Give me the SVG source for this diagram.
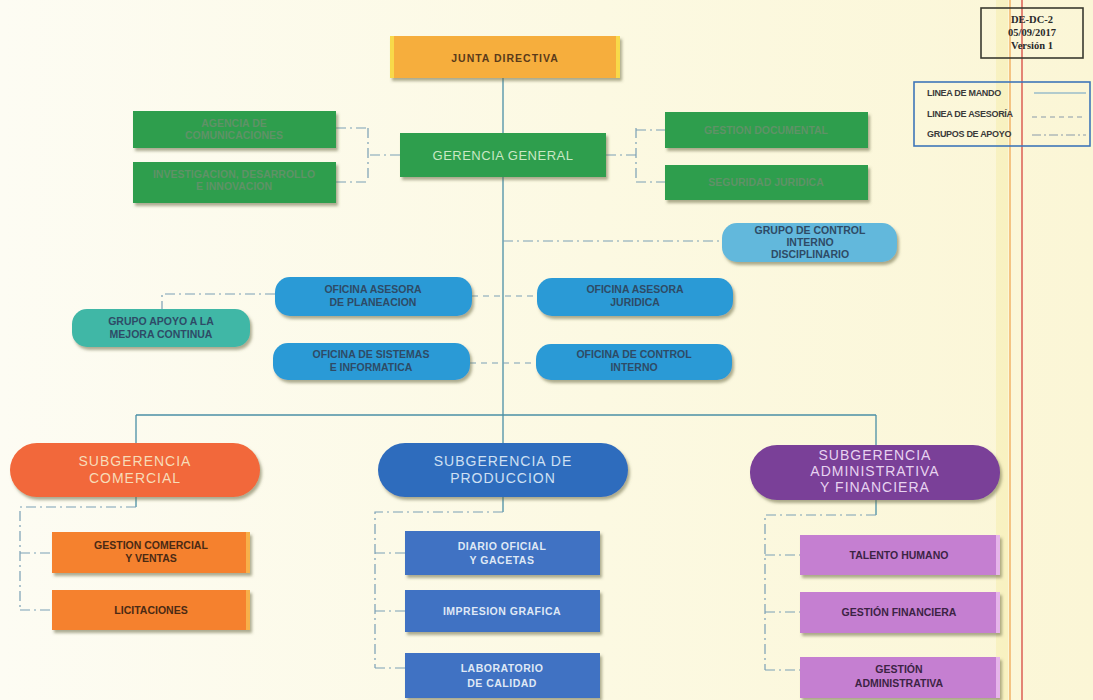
<svg xmlns="http://www.w3.org/2000/svg" width="1093" height="700" viewBox="0 0 1093 700">
<defs>
<filter id="sh" x="-10%" y="-20%" width="125%" height="150%">
<feDropShadow dx="2" dy="3" stdDeviation="1.6" flood-color="#6b6a45" flood-opacity="0.55"/>
</filter>
<linearGradient id="bg" x1="0" y1="0" x2="1" y2="0">
<stop offset="0" stop-color="#fdfcf3"/>
<stop offset="0.55" stop-color="#fcf9e2"/>
<stop offset="1" stop-color="#fbf6d6"/>
</linearGradient>
<style>
.t{font-family:"Liberation Sans",Arial,sans-serif;text-anchor:middle;font-weight:bold;font-size:10.5px}
.s{font-family:"Liberation Sans",Arial,sans-serif;text-anchor:middle;font-size:14px;letter-spacing:1px}
.lg{font-family:"Liberation Sans",Arial,sans-serif;font-size:9px;font-weight:bold;fill:#3a3a3a;letter-spacing:-0.3px}
.cm{stroke:#4a8fa6;stroke-width:1.3;fill:none}
.ca{stroke:#7a9fb5;stroke-width:1.2;fill:none;stroke-dasharray:6 5}
.cg{stroke:#7a9fb5;stroke-width:1.2;fill:none;stroke-dasharray:10 4 2 4}
.grn{fill:#2e9e4e;filter:url(#sh)}
.blu{fill:#2c9ad6;filter:url(#sh)}
.gt{fill:#5f9267}
.bt{fill:#2e4b66}
</style>
</defs>
<rect width="1093" height="700" fill="url(#bg)"/>
<rect x="996" y="0" width="12" height="700" fill="#f7f0b8" opacity="0.7"/>
<line x1="1010" y1="0" x2="1010" y2="700" stroke="#f0a24a" stroke-width="1.2"/>
<line x1="1022" y1="0" x2="1022" y2="700" stroke="#d9534a" stroke-width="1.4"/>

<g id="connectors">
<line class="cm" x1="503" y1="78" x2="503" y2="415"/>
<line class="cm" x1="136" y1="415" x2="876" y2="415"/>
<line class="cm" x1="136" y1="415" x2="136" y2="443"/>
<line class="cm" x1="876" y1="415" x2="876" y2="445"/>
<line class="cm" x1="503" y1="415" x2="503" y2="443"/>
<path class="cg" d="M400 155 H368 M368 128 V182 M336 128 H368 M336 182 H368"/>
<path class="cg" d="M606 155 H636 M636 128 V182 M636 130 H665 M636 182 H665"/>
<line class="cg" x1="503" y1="241" x2="722" y2="241"/>
<line class="ca" x1="472" y1="296" x2="537" y2="296"/>
<line class="ca" x1="470" y1="363" x2="536" y2="363"/>
<path class="cg" d="M275 294 H162 V309"/>
<line class="cm" x1="136" y1="497" x2="136" y2="507"/>
<path class="cg" d="M136 507 H20 V610 M20 553 H52 M20 610 H52"/>
<line class="cm" x1="503" y1="497" x2="503" y2="512"/>
<path class="cg" d="M503 512 H375 V668 M375 553 H405 M375 611 H405 M375 668 H405"/>
<line class="cm" x1="876" y1="500" x2="876" y2="515"/>
<path class="cg" d="M876 515 H765 V670 M765 555 H800 M765 612 H800 M765 670 H800"/>
</g>

<g id="junta-directiva">
<rect x="390" y="36" width="230" height="42" fill="#f6ae3e" filter="url(#sh)"/>
<rect x="390" y="36" width="4" height="42" fill="#f8d94a"/>
<rect x="616" y="36" width="4" height="42" fill="#f8d94a"/>
<text class="t" x="505" y="62" font-size="13" fill="#5a3a1a" letter-spacing="1">JUNTA  DIRECTIVA</text>
</g>
<g id="gerencia-general">
<rect class="grn" x="400" y="133" width="206" height="44"/>
<text x="503" y="160" font-family="Liberation Sans,Arial,sans-serif" font-size="13" text-anchor="middle" fill="#c9e8c4" letter-spacing="0.5">GERENCIA GENERAL</text>
</g>
<g id="agencia-comunicaciones">
<rect class="grn" x="133" y="111" width="203" height="37"/>
<text class="t gt" x="234" y="127">AGENCIA DE</text>
<text class="t gt" x="234" y="139">COMUNICACIONES</text>
</g>
<g id="investigacion">
<rect class="grn" x="133" y="162" width="203" height="41"/>
<text class="t gt" x="234" y="178">INVESTIGACION, DESARROLLO</text>
<text class="t gt" x="234" y="190">E INNOVACION</text>
</g>
<g id="gestion-documental">
<rect class="grn" x="665" y="112" width="203" height="36"/>
<text class="t gt" x="766" y="134">GESTION DOCUMENTAL</text>
</g>
<g id="seguridad-juridica">
<rect class="grn" x="665" y="165" width="203" height="35"/>
<text class="t gt" x="766" y="186">SEGURIDAD JURIDICA</text>
</g>

<g id="grupo-control-interno-disciplinario">
<rect x="722" y="223" width="175" height="39" rx="15" fill="#62b8dc" filter="url(#sh)"/>
<text class="t bt" x="810" y="234">GRUPO DE CONTROL</text>
<text class="t bt" x="810" y="246">INTERNO</text>
<text class="t bt" x="810" y="258">DISCIPLINARIO</text>
</g>
<g id="oficina-planeacion">
<rect class="blu" x="275" y="277" width="197" height="39" rx="15"/>
<text class="t bt" x="373" y="293">OFICINA ASESORA</text>
<text class="t bt" x="373" y="306">DE PLANEACION</text>
</g>
<g id="oficina-juridica">
<rect class="blu" x="537" y="278" width="196" height="38" rx="15"/>
<text class="t bt" x="635" y="293">OFICINA ASESORA</text>
<text class="t bt" x="635" y="306">JURIDICA</text>
</g>
<g id="oficina-sistemas">
<rect class="blu" x="273" y="343" width="197" height="37" rx="15"/>
<text class="t bt" x="371" y="358">OFICINA DE SISTEMAS</text>
<text class="t bt" x="371" y="371">E INFORMATICA</text>
</g>
<g id="oficina-control-interno">
<rect class="blu" x="536" y="344" width="196" height="36" rx="15"/>
<text class="t bt" x="634" y="358">OFICINA DE CONTROL</text>
<text class="t bt" x="634" y="371">INTERNO</text>
</g>
<g id="grupo-mejora-continua">
<rect x="72" y="309" width="178" height="38" rx="15" fill="#40b7a6" filter="url(#sh)"/>
<text class="t bt" x="161" y="325">GRUPO APOYO A LA</text>
<text class="t bt" x="161" y="338">MEJORA CONTINUA</text>
</g>

<g id="subgerencia-comercial">
<rect x="10" y="443" width="250" height="54" rx="27" fill="#f2673a" filter="url(#sh)"/>
<text class="s" x="135" y="466" fill="#f7dcb8">SUBGERENCIA</text>
<text class="s" x="135" y="483" fill="#f7dcb8">COMERCIAL</text>
</g>
<g id="subgerencia-produccion">
<rect x="378" y="443" width="250" height="54" rx="27" fill="#2f6cbd" filter="url(#sh)"/>
<text class="s" x="503" y="466" fill="#cfe0f3">SUBGERENCIA DE</text>
<text class="s" x="503" y="483" fill="#cfe0f3">PRODUCCION</text>
</g>
<g id="subgerencia-administrativa">
<rect x="750" y="445" width="250" height="55" rx="27" fill="#7a3f98" filter="url(#sh)"/>
<text class="s" x="875" y="460" fill="#e7d3f0">SUBGERENCIA</text>
<text class="s" x="875" y="476" fill="#e7d3f0">ADMINISTRATIVA</text>
<text class="s" x="875" y="492" fill="#e7d3f0">Y FINANCIERA</text>
</g>

<g id="gestion-comercial">
<rect x="52" y="532" width="198" height="41" fill="#f5812f" filter="url(#sh)"/>
<rect x="246" y="532" width="4" height="41" fill="#f7b04a"/>
<text class="t" x="151" y="549" font-size="11" fill="#4a2a14">GESTION  COMERCIAL</text>
<text class="t" x="151" y="562" font-size="11" fill="#4a2a14">Y VENTAS</text>
</g>
<g id="licitaciones">
<rect x="52" y="590" width="198" height="40" fill="#f5812f" filter="url(#sh)"/>
<rect x="246" y="590" width="4" height="40" fill="#f7b04a"/>
<text class="t" x="151" y="614" font-size="11" fill="#4a2a14">LICITACIONES</text>
</g>

<g id="diario-oficial">
<rect x="405" y="531" width="195" height="44" fill="#3f72c3" filter="url(#sh)"/>
<text x="502" y="550" class="t" font-weight="normal" font-size="11" fill="#dfe8f5" letter-spacing="0.5">DIARIO OFICIAL</text>
<text x="502" y="564" class="t" font-weight="normal" font-size="11" fill="#dfe8f5" letter-spacing="0.5">Y GACETAS</text>
</g>
<g id="impresion-grafica">
<rect x="405" y="590" width="195" height="42" fill="#3f72c3" filter="url(#sh)"/>
<text x="502" y="615" class="t" font-weight="normal" font-size="11" fill="#dfe8f5" letter-spacing="0.5">IMPRESION  GRAFICA</text>
</g>
<g id="laboratorio-calidad">
<rect x="405" y="653" width="195" height="45" fill="#3f72c3" filter="url(#sh)"/>
<text x="502" y="672" class="t" font-weight="normal" font-size="11" fill="#dfe8f5" letter-spacing="0.5">LABORATORIO</text>
<text x="502" y="687" class="t" font-weight="normal" font-size="11" fill="#dfe8f5" letter-spacing="0.5">DE CALIDAD</text>
</g>

<g id="talento-humano">
<rect x="800" y="535" width="200" height="40" fill="#c57fd1" filter="url(#sh)"/>
<rect x="996" y="535" width="4" height="40" fill="#e6b4ea"/>
<text class="t" x="899" y="559" font-size="11" fill="#3c2444">TALENTO  HUMANO</text>
</g>
<g id="gestion-financiera">
<rect x="800" y="592" width="200" height="41" fill="#c57fd1" filter="url(#sh)"/>
<rect x="996" y="592" width="4" height="41" fill="#e6b4ea"/>
<text class="t" x="899" y="616" font-size="11" fill="#3c2444">GESTIÓN  FINANCIERA</text>
</g>
<g id="gestion-administrativa">
<rect x="800" y="657" width="200" height="41" fill="#c57fd1" filter="url(#sh)"/>
<rect x="996" y="657" width="4" height="41" fill="#e6b4ea"/>
<text class="t" x="899" y="673" font-size="11" fill="#3c2444">GESTIÓN</text>
<text class="t" x="899" y="687" font-size="11" fill="#3c2444">ADMINISTRATIVA</text>
</g>

<g id="document-code">
<rect x="981" y="8" width="102" height="50" fill="none" stroke="#3a3a30" stroke-width="1.6"/>
<text x="1032" y="23" font-family="Liberation Serif,serif" font-weight="bold" font-size="10.5" text-anchor="middle" fill="#2a2a2a">DE-DC-2</text>
<text x="1032" y="36" font-family="Liberation Serif,serif" font-weight="bold" font-size="10.5" text-anchor="middle" fill="#2a2a2a">05/09/2017</text>
<text x="1032" y="49" font-family="Liberation Serif,serif" font-weight="bold" font-size="10.5" text-anchor="middle" fill="#2a2a2a">Versión 1</text>
</g>
<g id="legend">
<rect x="914" y="82" width="176" height="64" fill="none" stroke="#3f76b8" stroke-width="1.6"/>
<text class="lg" x="927" y="96">LINEA DE MANDO</text>
<text class="lg" x="927" y="117">LINEA DE ASESORÍA</text>
<text class="lg" x="927" y="137">GRUPOS DE APOYO</text>
<line x1="1034" y1="93" x2="1086" y2="93" stroke="#6a9fc4" stroke-width="1.2"/>
<line x1="1032" y1="117" x2="1086" y2="117" stroke="#8a9aaa" stroke-width="1.2" stroke-dasharray="5 4"/>
<line x1="1032" y1="135" x2="1086" y2="135" stroke="#8a9aaa" stroke-width="1.2" stroke-dasharray="9 3 2 3"/>
</g>
</svg>
